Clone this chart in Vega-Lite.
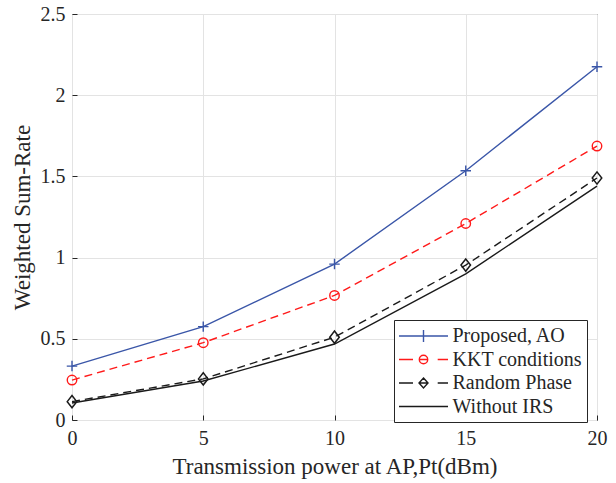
{
  "$schema": "https://vega.github.io/schema/vega-lite/v6.json",
  "autosize": "none",
  "width": 525,
  "height": 406,
  "padding": {"left": 72, "top": 14, "right": 19, "bottom": 63},
  "background": "white",
  "config": {
    "view": {"stroke": "#262626", "strokeWidth": 1},
    "font": "Liberation Serif",
    "axis": {
      "labelFont": "Liberation Serif",
      "titleFont": "Liberation Serif",
      "labelFontSize": 20,
      "titleFontSize": 23,
      "titleFontWeight": "normal",
      "labelColor": "#262626",
      "titleColor": "#262626",
      "domainColor": "#262626",
      "tickColor": "#262626",
      "gridColor": "#e3e3e3",
      "gridWidth": 1
    },
    "legend": {
      "labelFont": "Liberation Serif",
      "labelFontSize": 20
    }
  },
  "data": {
    "values": [
      {"series": "Proposed, AO", "x": 0, "y": 0.332},
      {"series": "Proposed, AO", "x": 5, "y": 0.575},
      {"series": "Proposed, AO", "x": 10, "y": 0.96},
      {"series": "Proposed, AO", "x": 15, "y": 1.535},
      {"series": "Proposed, AO", "x": 20, "y": 2.175},
      {"series": "KKT conditions", "x": 0, "y": 0.246},
      {"series": "KKT conditions", "x": 5, "y": 0.476},
      {"series": "KKT conditions", "x": 10, "y": 0.767},
      {"series": "KKT conditions", "x": 15, "y": 1.21},
      {"series": "KKT conditions", "x": 20, "y": 1.687},
      {"series": "Random Phase", "x": 0, "y": 0.113},
      {"series": "Random Phase", "x": 5, "y": 0.253},
      {"series": "Random Phase", "x": 10, "y": 0.51},
      {"series": "Random Phase", "x": 15, "y": 0.954},
      {"series": "Random Phase", "x": 20, "y": 1.49},
      {"series": "Without IRS", "x": 0, "y": 0.105},
      {"series": "Without IRS", "x": 5, "y": 0.24},
      {"series": "Without IRS", "x": 10, "y": 0.468},
      {"series": "Without IRS", "x": 15, "y": 0.9},
      {"series": "Without IRS", "x": 20, "y": 1.44}
    ]
  },
  "encoding": {
    "x": {
      "field": "x", "type": "quantitative",
      "scale": {"domain": [0, 20], "nice": false, "zero": false},
      "axis": {"values": [0, 5, 10, 15, 20], "format": "~g", "title": "Transmission power at AP,Pt(dBm)", "tickSize": -5, "labelPadding": 13, "titlePadding": 7, "labelFlush": false, "domain": false}
    },
    "y": {
      "field": "y", "type": "quantitative",
      "scale": {"domain": [0, 2.5], "nice": false},
      "axis": {"values": [0, 0.5, 1, 1.5, 2, 2.5], "format": "~g", "title": "Weighted Sum-Rate", "tickSize": -5, "labelPadding": 12, "titlePadding": 6, "labelFlush": false, "domain": false}
    }
  },
  "layer": [
    {
      "transform": [{"filter": "datum.series === 'Without IRS'"}],
      "mark": {"type": "line", "color": "#1a1a1a", "strokeWidth": 1.4}
    },
    {
      "transform": [{"filter": "datum.series === 'Random Phase'"}],
      "mark": {"type": "line", "color": "#1a1a1a", "strokeWidth": 1.4, "strokeDash": [8, 5]}
    },
    {
      "transform": [{"filter": "datum.series === 'KKT conditions'"}],
      "mark": {"type": "line", "color": "#ff1a1a", "strokeWidth": 1.4, "strokeDash": [8, 5]}
    },
    {
      "transform": [{"filter": "datum.series === 'Proposed, AO'"}],
      "mark": {"type": "line", "color": "#3a56a8", "strokeWidth": 1.4}
    },
    {
      "transform": [{"filter": "datum.series === 'Random Phase'"}],
      "mark": {"type": "point", "filled": false, "color": "#1a1a1a", "strokeWidth": 1.5, "opacity": 1, "shape": "M0,-1L0.78,0L0,1L-0.78,0Z", "size": 150}
    },
    {
      "transform": [{"filter": "datum.series === 'KKT conditions'"}],
      "mark": {"type": "point", "filled": false, "color": "#ff1a1a", "strokeWidth": 1.4, "opacity": 1, "shape": "circle", "size": 90}
    },
    {
      "transform": [{"filter": "datum.series === 'Proposed, AO'"}],
      "mark": {"type": "point", "filled": false, "color": "#3a56a8", "strokeWidth": 1.4, "opacity": 1, "shape": "M-1,0H1M0,-1V1", "size": 110}
    },
    {
      "mark": {"type": "point", "filled": false, "opacity": 0, "strokeWidth": 1.4},
      "encoding": {
        "color": {
          "field": "series", "type": "nominal",
          "scale": {"domain": ["Proposed, AO", "KKT conditions", "Random Phase", "Without IRS"], "range": ["#3a56a8", "#ff1a1a", "#1a1a1a", "#1a1a1a"]},
          "legend": {"title": null, "orient": "none", "legendX": 322, "legendY": 306, "symbolOpacity": 1, "symbolStrokeWidth": 1.4, "symbolSize": 400, "symbolOffset": 13.5, "labelFont": "Liberation Serif", "labelFontSize": 20, "labelColor": "#262626", "strokeColor": "#262626", "fillColor": "white", "padding": 5, "rowPadding": 2.5, "labelOffset": 18, "symbolFillColor": "transparent"}
        },
        "shape": {
          "field": "series", "type": "nominal",
          "scale": {"domain": ["Proposed, AO", "KKT conditions", "Random Phase", "Without IRS"], "range": [
            "M-2.45,0H2.45M0,-0.6V0.6",
            "M-2.45,0H-1.05M1.42,0H2.45M-0.42,0H0.42M-0.42,0A0.42,0.42,0,1,0,0.42,0A0.42,0.42,0,1,0,-0.42,0",
            "M-2.45,0H-1.05M1.42,0H2.45M-0.4,0H0.4M0,-0.5L0.45,0L0,0.5L-0.45,0Z",
            "M-2.45,0H2.45"
          ]},
          "legend": {"title": null, "orient": "none", "legendX": 322, "legendY": 306, "symbolOpacity": 1, "symbolStrokeWidth": 1.4, "symbolSize": 400, "symbolOffset": 13.5, "labelFont": "Liberation Serif", "labelFontSize": 20, "labelColor": "#262626", "strokeColor": "#262626", "fillColor": "white", "padding": 5, "rowPadding": 2.5, "labelOffset": 18, "symbolFillColor": "transparent"}
        }
      }
    }
  ]
}
